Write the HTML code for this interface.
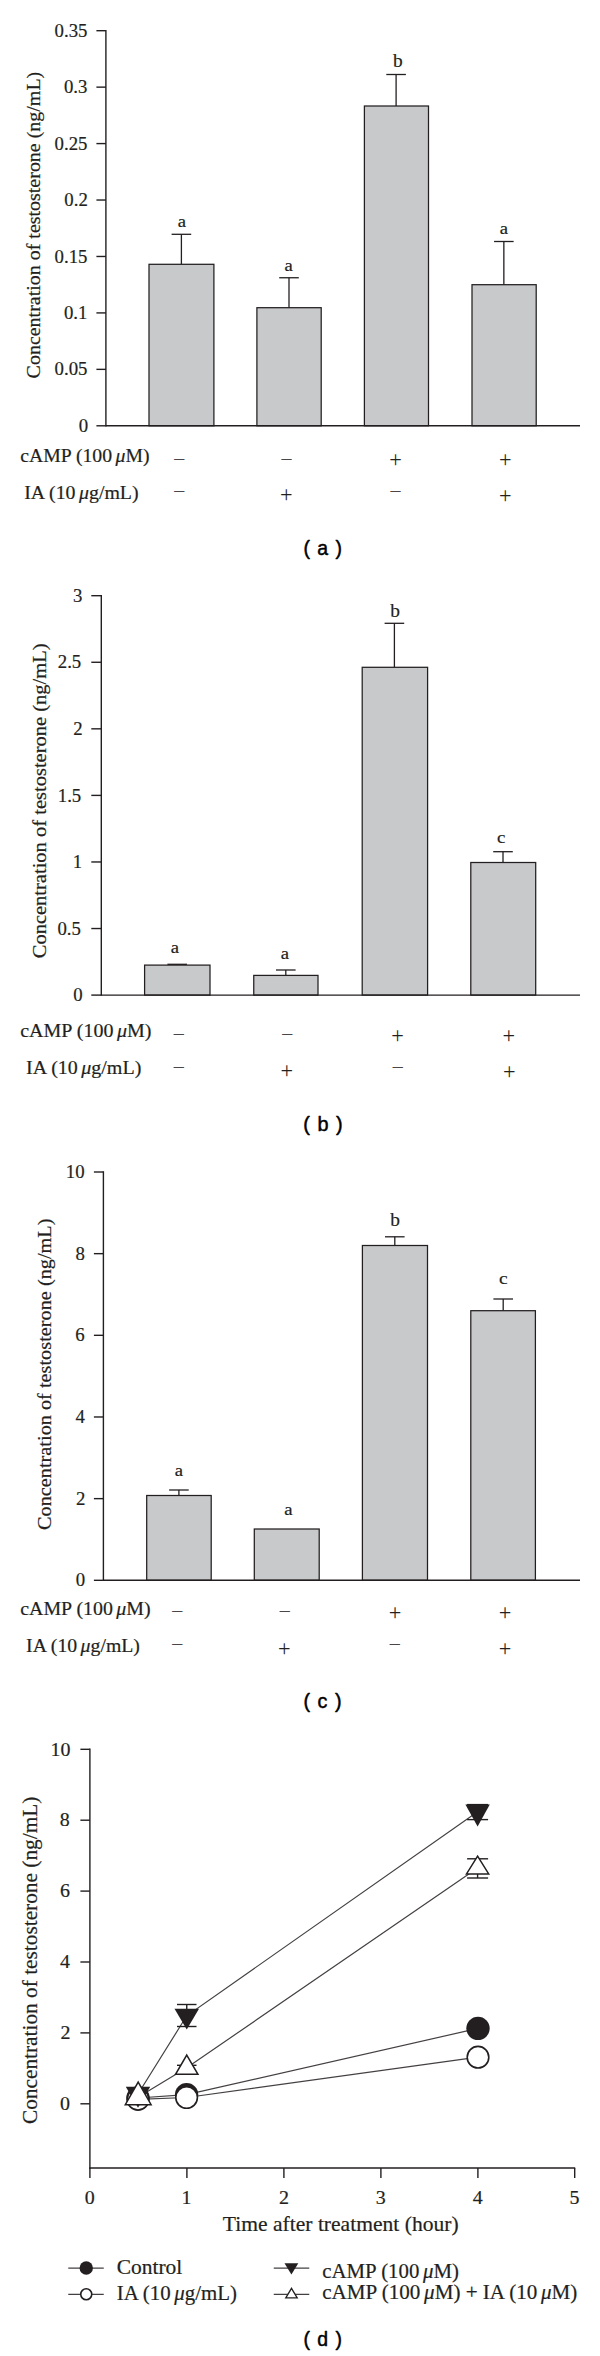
<!DOCTYPE html>
<html lang="en">
<head>
<meta charset="utf-8">
<title>Concentration of testosterone</title>
<style>
html,body{margin:0;padding:0;background:#fff}
svg{display:block}
text{fill:#231f20;white-space:pre;stroke:#231f20;stroke-width:.2px;stroke-linejoin:round}
.s{font-family:"Liberation Serif",serif}
.g{stroke:none}
.m{fill:#4a4647}
.n{font-family:"Liberation Sans",sans-serif;fill:#000;stroke:#000;stroke-width:.45px}
</style>
</head>
<body>
<svg width="600" height="2356" viewBox="0 0 600 2356" role="img" aria-label="Concentration of testosterone charts">
<rect width="600" height="2356" fill="#fff"/>
<g>
<line x1="181.4" y1="264.3" x2="181.4" y2="234.3" stroke="#231f20" stroke-width="1.3" stroke-linecap="butt"/>
<line x1="171.6" y1="234.3" x2="191.20000000000002" y2="234.3" stroke="#231f20" stroke-width="1.3" stroke-linecap="butt"/>
<rect x="149" y="264.3" width="64.9" height="161.5" fill="#c8c9cb" stroke="#231f20" stroke-width="1.25"/>
<line x1="289" y1="307.7" x2="289" y2="277.75" stroke="#231f20" stroke-width="1.3" stroke-linecap="butt"/>
<line x1="279.2" y1="277.75" x2="298.8" y2="277.75" stroke="#231f20" stroke-width="1.3" stroke-linecap="butt"/>
<rect x="256.9" y="307.7" width="64.30000000000001" height="118.10000000000002" fill="#c8c9cb" stroke="#231f20" stroke-width="1.25"/>
<line x1="396.1" y1="106" x2="396.1" y2="74.5" stroke="#231f20" stroke-width="1.3" stroke-linecap="butt"/>
<line x1="386.3" y1="74.5" x2="405.90000000000003" y2="74.5" stroke="#231f20" stroke-width="1.3" stroke-linecap="butt"/>
<rect x="364.4" y="106" width="64.10000000000002" height="319.8" fill="#c8c9cb" stroke="#231f20" stroke-width="1.25"/>
<line x1="503.85" y1="284.7" x2="503.85" y2="241.5" stroke="#231f20" stroke-width="1.3" stroke-linecap="butt"/>
<line x1="494.05" y1="241.5" x2="513.65" y2="241.5" stroke="#231f20" stroke-width="1.3" stroke-linecap="butt"/>
<rect x="472" y="284.7" width="64.20000000000005" height="141.10000000000002" fill="#c8c9cb" stroke="#231f20" stroke-width="1.25"/>
<line x1="105.9" y1="30.0" x2="105.9" y2="426.5" stroke="#231f20" stroke-width="1.4" stroke-linecap="butt"/>
<line x1="105.9" y1="425.8" x2="580" y2="425.8" stroke="#231f20" stroke-width="1.4" stroke-linecap="butt"/>
<line x1="96.4" y1="30.7" x2="105.9" y2="30.7" stroke="#231f20" stroke-width="1.4" stroke-linecap="butt"/>
<line x1="96.4" y1="87.14285714285714" x2="105.9" y2="87.14285714285714" stroke="#231f20" stroke-width="1.4" stroke-linecap="butt"/>
<line x1="96.4" y1="143.5857142857143" x2="105.9" y2="143.5857142857143" stroke="#231f20" stroke-width="1.4" stroke-linecap="butt"/>
<line x1="96.4" y1="200.02857142857144" x2="105.9" y2="200.02857142857144" stroke="#231f20" stroke-width="1.4" stroke-linecap="butt"/>
<line x1="96.4" y1="256.4714285714286" x2="105.9" y2="256.4714285714286" stroke="#231f20" stroke-width="1.4" stroke-linecap="butt"/>
<line x1="96.4" y1="312.9142857142857" x2="105.9" y2="312.9142857142857" stroke="#231f20" stroke-width="1.4" stroke-linecap="butt"/>
<line x1="96.4" y1="369.3571428571429" x2="105.9" y2="369.3571428571429" stroke="#231f20" stroke-width="1.4" stroke-linecap="butt"/>
<line x1="96.4" y1="425.8" x2="105.9" y2="425.8" stroke="#231f20" stroke-width="1.4" stroke-linecap="butt"/>
<line x1="177.2" y1="965.1" x2="177.2" y2="964.3" stroke="#231f20" stroke-width="1.3" stroke-linecap="butt"/>
<line x1="167.39999999999998" y1="964.3" x2="187.0" y2="964.3" stroke="#231f20" stroke-width="1.3" stroke-linecap="butt"/>
<rect x="144.6" y="965.1" width="65.4" height="30.0" fill="#c8c9cb" stroke="#231f20" stroke-width="1.25"/>
<line x1="285.8" y1="975.4" x2="285.8" y2="970" stroke="#231f20" stroke-width="1.3" stroke-linecap="butt"/>
<line x1="276.0" y1="970" x2="295.6" y2="970" stroke="#231f20" stroke-width="1.3" stroke-linecap="butt"/>
<rect x="253.75" y="975.4" width="64.25" height="19.700000000000045" fill="#c8c9cb" stroke="#231f20" stroke-width="1.25"/>
<line x1="394.4" y1="667.3" x2="394.4" y2="623.3" stroke="#231f20" stroke-width="1.3" stroke-linecap="butt"/>
<line x1="384.59999999999997" y1="623.3" x2="404.2" y2="623.3" stroke="#231f20" stroke-width="1.3" stroke-linecap="butt"/>
<rect x="362.2" y="667.3" width="65.40000000000003" height="327.80000000000007" fill="#c8c9cb" stroke="#231f20" stroke-width="1.25"/>
<line x1="503" y1="862.5" x2="503" y2="851.7" stroke="#231f20" stroke-width="1.3" stroke-linecap="butt"/>
<line x1="493.2" y1="851.7" x2="512.8" y2="851.7" stroke="#231f20" stroke-width="1.3" stroke-linecap="butt"/>
<rect x="470.8" y="862.5" width="64.90000000000003" height="132.60000000000002" fill="#c8c9cb" stroke="#231f20" stroke-width="1.25"/>
<line x1="101.3" y1="595.0" x2="101.3" y2="995.8000000000001" stroke="#231f20" stroke-width="1.4" stroke-linecap="butt"/>
<line x1="101.3" y1="995.1" x2="580" y2="995.1" stroke="#231f20" stroke-width="1.4" stroke-linecap="butt"/>
<line x1="91.3" y1="595.7" x2="101.3" y2="595.7" stroke="#231f20" stroke-width="1.4" stroke-linecap="butt"/>
<line x1="91.3" y1="662.2666666666667" x2="101.3" y2="662.2666666666667" stroke="#231f20" stroke-width="1.4" stroke-linecap="butt"/>
<line x1="91.3" y1="728.8333333333334" x2="101.3" y2="728.8333333333334" stroke="#231f20" stroke-width="1.4" stroke-linecap="butt"/>
<line x1="91.3" y1="795.4" x2="101.3" y2="795.4" stroke="#231f20" stroke-width="1.4" stroke-linecap="butt"/>
<line x1="91.3" y1="861.9666666666667" x2="101.3" y2="861.9666666666667" stroke="#231f20" stroke-width="1.4" stroke-linecap="butt"/>
<line x1="91.3" y1="928.5333333333333" x2="101.3" y2="928.5333333333333" stroke="#231f20" stroke-width="1.4" stroke-linecap="butt"/>
<line x1="91.3" y1="995.0999999999999" x2="101.3" y2="995.0999999999999" stroke="#231f20" stroke-width="1.4" stroke-linecap="butt"/>
<line x1="178.9" y1="1495.5" x2="178.9" y2="1490" stroke="#231f20" stroke-width="1.3" stroke-linecap="butt"/>
<line x1="169.1" y1="1490" x2="188.70000000000002" y2="1490" stroke="#231f20" stroke-width="1.3" stroke-linecap="butt"/>
<rect x="146.7" y="1495.5" width="64.5" height="84.79999999999995" fill="#c8c9cb" stroke="#231f20" stroke-width="1.25"/>
<rect x="254.3" y="1529" width="64.89999999999998" height="51.299999999999955" fill="#c8c9cb" stroke="#231f20" stroke-width="1.25"/>
<line x1="394.8" y1="1245.5" x2="394.8" y2="1236.8" stroke="#231f20" stroke-width="1.3" stroke-linecap="butt"/>
<line x1="385.0" y1="1236.8" x2="404.6" y2="1236.8" stroke="#231f20" stroke-width="1.3" stroke-linecap="butt"/>
<rect x="362.4" y="1245.5" width="65.10000000000002" height="334.79999999999995" fill="#c8c9cb" stroke="#231f20" stroke-width="1.25"/>
<line x1="503.2" y1="1310.7" x2="503.2" y2="1299" stroke="#231f20" stroke-width="1.3" stroke-linecap="butt"/>
<line x1="493.4" y1="1299" x2="513.0" y2="1299" stroke="#231f20" stroke-width="1.3" stroke-linecap="butt"/>
<rect x="470.8" y="1310.7" width="64.59999999999997" height="269.5999999999999" fill="#c8c9cb" stroke="#231f20" stroke-width="1.25"/>
<line x1="103.4" y1="1171.3" x2="103.4" y2="1581.0" stroke="#231f20" stroke-width="1.4" stroke-linecap="butt"/>
<line x1="103.4" y1="1580.3" x2="580" y2="1580.3" stroke="#231f20" stroke-width="1.4" stroke-linecap="butt"/>
<line x1="93.9" y1="1172.0" x2="103.4" y2="1172.0" stroke="#231f20" stroke-width="1.4" stroke-linecap="butt"/>
<line x1="93.9" y1="1253.66" x2="103.4" y2="1253.66" stroke="#231f20" stroke-width="1.4" stroke-linecap="butt"/>
<line x1="93.9" y1="1335.32" x2="103.4" y2="1335.32" stroke="#231f20" stroke-width="1.4" stroke-linecap="butt"/>
<line x1="93.9" y1="1416.98" x2="103.4" y2="1416.98" stroke="#231f20" stroke-width="1.4" stroke-linecap="butt"/>
<line x1="93.9" y1="1498.6399999999999" x2="103.4" y2="1498.6399999999999" stroke="#231f20" stroke-width="1.4" stroke-linecap="butt"/>
<line x1="93.9" y1="1580.3" x2="103.4" y2="1580.3" stroke="#231f20" stroke-width="1.4" stroke-linecap="butt"/>
<polyline points="138,2098 186.6,2094.7 478,2028.4" fill="none" stroke="#454142" stroke-width="1.2"/>
<polyline points="138,2099.3 186.6,2097.5 478,2057.2" fill="none" stroke="#454142" stroke-width="1.2"/>
<polyline points="138,2094 186.75,2015.8 477.6,1811.8" fill="none" stroke="#454142" stroke-width="1.2"/>
<polyline points="138,2097.3 186.75,2067.8 477.6,1867.9" fill="none" stroke="#454142" stroke-width="1.2"/>
<line x1="186.75" y1="2004.5" x2="186.75" y2="2026.5" stroke="#231f20" stroke-width="1.4" stroke-linecap="butt"/>
<line x1="177.0" y1="2004.5" x2="196.5" y2="2004.5" stroke="#231f20" stroke-width="1.4" stroke-linecap="butt"/>
<line x1="177.0" y1="2026.5" x2="196.5" y2="2026.5" stroke="#231f20" stroke-width="1.4" stroke-linecap="butt"/>
<line x1="177.0" y1="2065.3" x2="196.5" y2="2065.3" stroke="#231f20" stroke-width="1.4" stroke-linecap="butt"/>
<line x1="477.6" y1="1804.6" x2="477.6" y2="1819.6" stroke="#231f20" stroke-width="1.4" stroke-linecap="butt"/>
<line x1="467.1" y1="1804.6" x2="488.1" y2="1804.6" stroke="#231f20" stroke-width="1.4" stroke-linecap="butt"/>
<line x1="467.1" y1="1819.6" x2="488.1" y2="1819.6" stroke="#231f20" stroke-width="1.4" stroke-linecap="butt"/>
<line x1="477.6" y1="1858.8" x2="477.6" y2="1878" stroke="#231f20" stroke-width="1.4" stroke-linecap="butt"/>
<line x1="467.1" y1="1858.8" x2="488.1" y2="1858.8" stroke="#231f20" stroke-width="1.4" stroke-linecap="butt"/>
<line x1="467.1" y1="1878" x2="488.1" y2="1878" stroke="#231f20" stroke-width="1.4" stroke-linecap="butt"/>
<circle cx="138" cy="2098" r="11.7" fill="#231f20"/>
<circle cx="186.6" cy="2094.7" r="11.7" fill="#231f20"/>
<circle cx="478" cy="2028.4" r="11.7" fill="#231f20"/>
<circle cx="138" cy="2099.3" r="10.799999999999999" fill="#fff" stroke="#231f20" stroke-width="1.6"/>
<circle cx="186.6" cy="2097.5" r="10.799999999999999" fill="#fff" stroke="#231f20" stroke-width="1.6"/>
<circle cx="478" cy="2057.2" r="10.799999999999999" fill="#fff" stroke="#231f20" stroke-width="1.6"/>
<polygon points="125.8,2086.7 150.2,2086.7 138,2107.7" fill="#231f20"/>
<polygon points="174.5,2008.75 199.0,2008.75 186.75,2029.5" fill="#231f20"/>
<polygon points="465.40000000000003,1804.4 489.8,1804.4 477.6,1826.4" fill="#231f20"/>
<polygon points="138.2,2082.1 151.10249999999996,2104.75 125.29749999999999,2104.75" fill="#fff" stroke="#231f20" stroke-width="1.5" stroke-linejoin="miter"/>
<polygon points="186.75,2055.1 197.9525,2074.25 175.5475,2074.25" fill="#fff" stroke="#231f20" stroke-width="1.5" stroke-linejoin="miter"/>
<polygon points="477.6,1856.1999999999998 488.7025,1873.95 466.49750000000006,1873.95" fill="#fff" stroke="#231f20" stroke-width="1.5" stroke-linejoin="miter"/>
<line x1="89.9" y1="1748.6" x2="89.9" y2="2168.7" stroke="#231f20" stroke-width="1.4" stroke-linecap="butt"/>
<line x1="89.2" y1="2168" x2="575.2" y2="2168" stroke="#231f20" stroke-width="1.4" stroke-linecap="butt"/>
<line x1="80.4" y1="1749.3" x2="89.9" y2="1749.3" stroke="#231f20" stroke-width="1.4" stroke-linecap="butt"/>
<line x1="80.4" y1="1820.2" x2="89.9" y2="1820.2" stroke="#231f20" stroke-width="1.4" stroke-linecap="butt"/>
<line x1="80.4" y1="1891.1000000000001" x2="89.9" y2="1891.1000000000001" stroke="#231f20" stroke-width="1.4" stroke-linecap="butt"/>
<line x1="80.4" y1="1962.0" x2="89.9" y2="1962.0" stroke="#231f20" stroke-width="1.4" stroke-linecap="butt"/>
<line x1="80.4" y1="2032.9" x2="89.9" y2="2032.9" stroke="#231f20" stroke-width="1.4" stroke-linecap="butt"/>
<line x1="80.4" y1="2103.8" x2="89.9" y2="2103.8" stroke="#231f20" stroke-width="1.4" stroke-linecap="butt"/>
<line x1="89.9" y1="2168" x2="89.9" y2="2177.9" stroke="#231f20" stroke-width="1.4" stroke-linecap="butt"/>
<line x1="186.9" y1="2168" x2="186.9" y2="2177.9" stroke="#231f20" stroke-width="1.4" stroke-linecap="butt"/>
<line x1="283.9" y1="2168" x2="283.9" y2="2177.9" stroke="#231f20" stroke-width="1.4" stroke-linecap="butt"/>
<line x1="380.9" y1="2168" x2="380.9" y2="2177.9" stroke="#231f20" stroke-width="1.4" stroke-linecap="butt"/>
<line x1="477.9" y1="2168" x2="477.9" y2="2177.9" stroke="#231f20" stroke-width="1.4" stroke-linecap="butt"/>
<line x1="574.7" y1="2168" x2="574.7" y2="2177.9" stroke="#231f20" stroke-width="1.4" stroke-linecap="butt"/>
<line x1="68.25" y1="2268" x2="103.75" y2="2268" stroke="#454142" stroke-width="1.25" stroke-linecap="butt"/>
<circle cx="86.25" cy="2268" r="6.7" fill="#231f20"/>
<line x1="68.25" y1="2294.25" x2="103.75" y2="2294.25" stroke="#454142" stroke-width="1.25" stroke-linecap="butt"/>
<circle cx="86.25" cy="2294.25" r="5.5" fill="#fff" stroke="#231f20" stroke-width="1.6"/>
<line x1="273.75" y1="2268" x2="309.25" y2="2268" stroke="#454142" stroke-width="1.25" stroke-linecap="butt"/>
<polygon points="284.5,2263.25 298.29999999999995,2263.25 291.4,2274.5" fill="#231f20"/>
<line x1="273.75" y1="2294.25" x2="309.25" y2="2294.25" stroke="#454142" stroke-width="1.25" stroke-linecap="butt"/>
<polygon points="291.5,2288.3300000000004 297.21549999999996,2297.9 285.78450000000004,2297.9" fill="#fff" stroke="#231f20" stroke-width="1.3" stroke-linejoin="miter"/>
</g>
<g>
<text class="s" font-size="19" transform="translate(54.62 36.80) scale(0.9900 1)">0.35</text>
<text class="s" font-size="19" transform="translate(63.93 93.24) scale(0.9900 1)">0.3</text>
<text class="s" font-size="19" transform="translate(54.53 149.69) scale(0.9900 1)">0.25</text>
<text class="s" font-size="19" transform="translate(64.28 206.13) scale(0.9900 1)">0.2</text>
<text class="s" font-size="19" transform="translate(54.53 262.57) scale(0.9900 1)">0.15</text>
<text class="s" font-size="19" transform="translate(63.93 319.01) scale(0.9900 1)">0.1</text>
<text class="s" font-size="19" transform="translate(54.62 375.46) scale(0.9900 1)">0.05</text>
<text class="s" font-size="19" transform="translate(78.84 431.90) scale(0.9900 1)">0</text>
<text class="s" font-size="17" transform="translate(177.85 226.70) scale(1.0963 1)">a</text>
<text class="s" font-size="17" transform="translate(284.45 271.30) scale(1.0963 1)">a</text>
<text class="s" font-size="19.4" transform="translate(393.10 67.40) scale(1.0000 1)">b</text>
<text class="s" font-size="17" transform="translate(499.75 234.30) scale(1.0963 1)">a</text>
<text class="s" font-size="19" transform="translate(40.00 378.39) rotate(-90) scale(1.0515 1)">Concentration of testosterone (ng/mL)</text>
<text class="s" font-size="19" transform="translate(20.22 462.40) scale(1.0390 1)">cAMP (100 <tspan font-style="italic" dx="-1.5">μ</tspan>M)</text>
<text class="s" font-size="19" transform="translate(24.21 498.70) scale(1.0469 1)">IA (10 <tspan font-style="italic" dx="-1.5">μ</tspan>g/mL)</text>
<text class="s g m" font-size="22.5" transform="translate(172.91 466.50) scale(0.9905 1)">−</text>
<text class="s g m" font-size="22.5" transform="translate(280.31 466.50) scale(0.9905 1)">−</text>
<text class="s g" font-size="22.5" transform="translate(389.31 467.00) scale(0.9905 1)">+</text>
<text class="s g" font-size="22.5" transform="translate(499.01 467.00) scale(0.9905 1)">+</text>
<text class="s g m" font-size="22.5" transform="translate(172.91 499.30) scale(0.9905 1)">−</text>
<text class="s g" font-size="22.5" transform="translate(280.06 502.40) scale(0.9905 1)">+</text>
<text class="s g m" font-size="22.5" transform="translate(389.21 499.30) scale(0.9905 1)">−</text>
<text class="s g" font-size="22.5" transform="translate(499.11 502.50) scale(0.9905 1)">+</text>
<text class="n" font-size="19.3" transform="translate(303.49 555.30) scale(1.0070 1)"><tspan word-spacing="2">( a )</tspan></text>
<text class="s" font-size="19" transform="translate(72.94 601.80) scale(0.9900 1)">3</text>
<text class="s" font-size="19" transform="translate(57.73 668.37) scale(0.9900 1)">2.5</text>
<text class="s" font-size="19" transform="translate(73.28 734.93) scale(0.9900 1)">2</text>
<text class="s" font-size="19" transform="translate(57.73 801.50) scale(0.9900 1)">1.5</text>
<text class="s" font-size="19" transform="translate(72.63 868.07) scale(0.9900 1)">1</text>
<text class="s" font-size="19" transform="translate(57.43 934.63) scale(0.9900 1)">0.5</text>
<text class="s" font-size="19" transform="translate(73.24 1001.20) scale(0.9900 1)">0</text>
<text class="s" font-size="17" transform="translate(170.75 952.80) scale(1.0963 1)">a</text>
<text class="s" font-size="17" transform="translate(280.75 958.60) scale(1.0963 1)">a</text>
<text class="s" font-size="19.4" transform="translate(390.20 617.20) scale(1.0000 1)">b</text>
<text class="s" font-size="16.8" transform="translate(497.06 843.20) scale(1.1200 1)">c</text>
<text class="s" font-size="19.4" transform="translate(46.30 958.29) rotate(-90) scale(1.0576 1)">Concentration of testosterone (ng/mL)</text>
<text class="s" font-size="19.2" transform="translate(20.22 1037.40) scale(1.0431 1)">cAMP (100 <tspan font-style="italic" dx="-1.5">μ</tspan>M)</text>
<text class="s" font-size="19.2" transform="translate(26.12 1074.40) scale(1.0423 1)">IA (10 <tspan font-style="italic" dx="-1.5">μ</tspan>g/mL)</text>
<text class="s g m" font-size="22.5" transform="translate(172.56 1041.80) scale(0.9905 1)">−</text>
<text class="s g m" font-size="22.5" transform="translate(280.91 1041.80) scale(0.9905 1)">−</text>
<text class="s g" font-size="22.5" transform="translate(391.31 1042.50) scale(0.9905 1)">+</text>
<text class="s g" font-size="22.5" transform="translate(502.56 1042.50) scale(0.9905 1)">+</text>
<text class="s g m" font-size="22.5" transform="translate(172.56 1075.00) scale(0.9905 1)">−</text>
<text class="s g" font-size="22.5" transform="translate(280.56 1078.25) scale(0.9905 1)">+</text>
<text class="s g m" font-size="22.5" transform="translate(391.56 1075.00) scale(0.9905 1)">−</text>
<text class="s g" font-size="22.5" transform="translate(502.91 1078.70) scale(0.9905 1)">+</text>
<text class="n" font-size="19.3" transform="translate(303.31 1131.20) scale(1.0294 1)"><tspan word-spacing="2">( b )</tspan></text>
<text class="s" font-size="19" transform="translate(65.83 1178.10) scale(0.9900 1)">10</text>
<text class="s" font-size="19" transform="translate(75.54 1259.76) scale(0.9900 1)">8</text>
<text class="s" font-size="19" transform="translate(75.19 1341.42) scale(0.9900 1)">6</text>
<text class="s" font-size="19" transform="translate(75.54 1423.08) scale(0.9900 1)">4</text>
<text class="s" font-size="19" transform="translate(75.88 1504.74) scale(0.9900 1)">2</text>
<text class="s" font-size="19" transform="translate(75.84 1586.40) scale(0.9900 1)">0</text>
<text class="s" font-size="17" transform="translate(174.75 1476.40) scale(1.0963 1)">a</text>
<text class="s" font-size="17" transform="translate(284.35 1514.60) scale(1.0963 1)">a</text>
<text class="s" font-size="19.4" transform="translate(390.20 1226.30) scale(1.0000 1)">b</text>
<text class="s" font-size="16.8" transform="translate(499.04 1284.10) scale(1.1520 1)">c</text>
<text class="s" font-size="19.25" transform="translate(51.30 1529.99) rotate(-90) scale(1.0544 1)">Concentration of testosterone (ng/mL)</text>
<text class="s" font-size="19.1" transform="translate(20.22 1615.10) scale(1.0425 1)">cAMP (100 <tspan font-style="italic" dx="-1.5">μ</tspan>M)</text>
<text class="s" font-size="19.1" transform="translate(26.12 1651.75) scale(1.0356 1)">IA (10 <tspan font-style="italic" dx="-1.5">μ</tspan>g/mL)</text>
<text class="s g m" font-size="22.5" transform="translate(171.06 1619.10) scale(0.9905 1)">−</text>
<text class="s g m" font-size="22.5" transform="translate(278.56 1619.10) scale(0.9905 1)">−</text>
<text class="s g" font-size="22.5" transform="translate(388.81 1619.75) scale(0.9905 1)">+</text>
<text class="s g" font-size="22.5" transform="translate(498.81 1619.75) scale(0.9905 1)">+</text>
<text class="s g m" font-size="22.5" transform="translate(171.06 1652.25) scale(0.9905 1)">−</text>
<text class="s g" font-size="22.5" transform="translate(278.06 1655.50) scale(0.9905 1)">+</text>
<text class="s g m" font-size="22.5" transform="translate(388.56 1652.25) scale(0.9905 1)">−</text>
<text class="s g" font-size="22.5" transform="translate(498.81 1655.50) scale(0.9905 1)">+</text>
<text class="n" font-size="19.3" transform="translate(303.47 1708.30) scale(1.0201 1)"><tspan word-spacing="2">( c )</tspan></text>
<text class="s" font-size="19.8" transform="translate(50.61 1755.50) scale(1.0100 1)">10</text>
<text class="s" font-size="19.8" transform="translate(59.86 1826.40) scale(1.0100 1)">8</text>
<text class="s" font-size="19.8" transform="translate(60.06 1897.30) scale(1.0100 1)">6</text>
<text class="s" font-size="19.8" transform="translate(60.11 1968.20) scale(1.0100 1)">4</text>
<text class="s" font-size="19.8" transform="translate(60.56 2039.10) scale(1.0100 1)">2</text>
<text class="s" font-size="19.8" transform="translate(60.06 2110.00) scale(1.0100 1)">0</text>
<text class="s" font-size="19.8" transform="translate(84.85 2204.30) scale(1.0100 1)">0</text>
<text class="s" font-size="19.8" transform="translate(181.60 2204.30) scale(1.0100 1)">1</text>
<text class="s" font-size="19.8" transform="translate(279.10 2204.30) scale(1.0100 1)">2</text>
<text class="s" font-size="19.8" transform="translate(375.85 2204.30) scale(1.0100 1)">3</text>
<text class="s" font-size="19.8" transform="translate(472.85 2204.30) scale(1.0100 1)">4</text>
<text class="s" font-size="19.8" transform="translate(569.52 2204.30) scale(1.0100 1)">5</text>
<text class="s" font-size="20.4" transform="translate(222.84 2231.00) scale(1.0579 1)">Time after treatment (hour)</text>
<text class="s" font-size="20.2" transform="translate(36.50 2124.09) rotate(-90) scale(1.0561 1)">Concentration of testosterone (ng/mL)</text>
<text class="s" font-size="20.4" transform="translate(116.71 2273.50) scale(1.0531 1)">Control</text>
<text class="s" font-size="20.4" transform="translate(116.73 2299.75) scale(1.0238 1)">IA (10 <tspan font-style="italic" dx="-1.5">μ</tspan>g/mL)</text>
<text class="s" font-size="20.4" transform="translate(322.23 2277.50) scale(1.0227 1)">cAMP (100 <tspan font-style="italic" dx="-1.5">μ</tspan>M)</text>
<text class="s" font-size="20.4" transform="translate(322.22 2298.75) scale(1.0336 1)">cAMP (100 <tspan font-style="italic" dx="-1.5">μ</tspan>M) + IA (10 <tspan font-style="italic" dx="-1.5">μ</tspan>M)</text>
<text class="n" font-size="19.3" transform="translate(303.49 2345.50) scale(1.0070 1)"><tspan word-spacing="2">( d )</tspan></text>
</g>
</svg>
</body>
</html>
